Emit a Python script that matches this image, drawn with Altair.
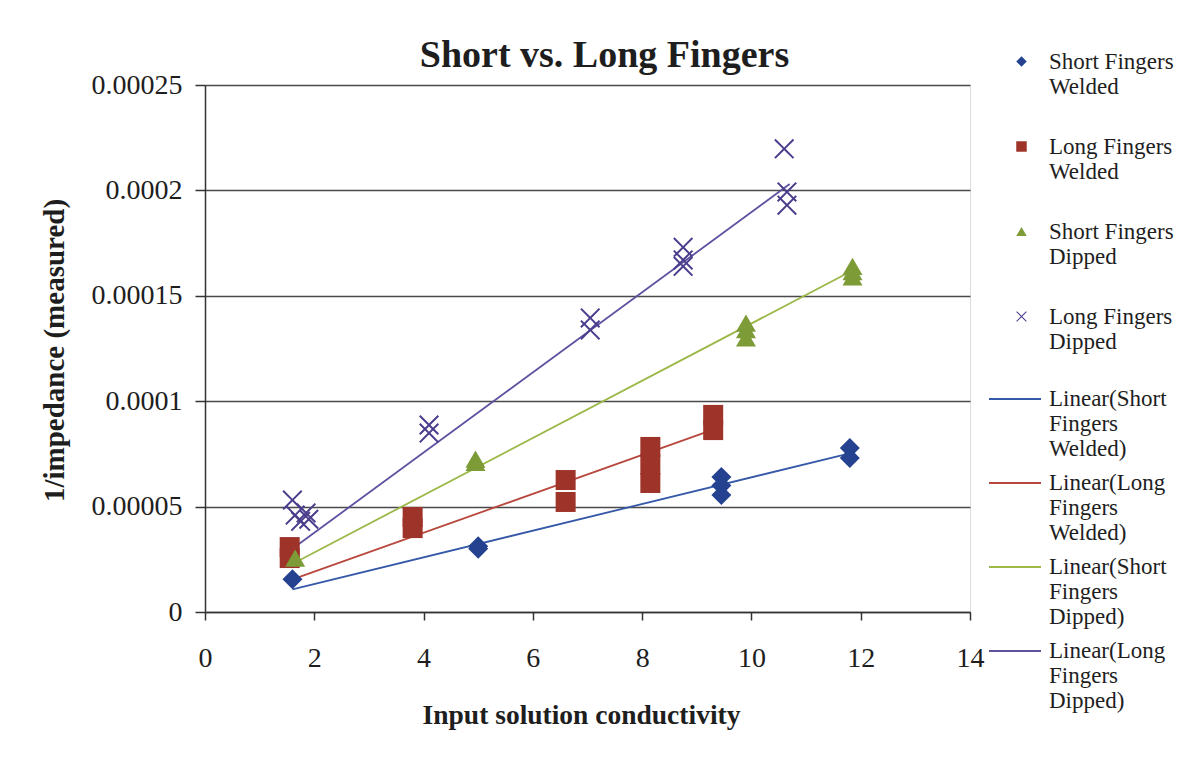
import altair as alt
import pandas as pd

# ---- data ----
SERIES = ["Short Fingers|Welded", "Long Fingers|Welded",
          "Short Fingers|Dipped", "Long Fingers|Dipped"]
FITS = ["Linear(Short|Fingers|Welded)", "Linear(Long|Fingers|Welded)",
        "Linear(Short|Fingers|Dipped)", "Linear(Long|Fingers|Dipped)"]

sfw_x = [1.6, 5.0, 5.0, 9.45, 9.45, 9.45, 11.8, 11.8]
sfw_y = [0.0000155, 0.0000300, 0.0000312, 0.0000640, 0.0000600, 0.0000555, 0.0000778, 0.0000731]

lfw_x = [1.55, 1.55, 3.8, 3.8, 6.6, 6.6, 8.15, 8.15, 8.15, 9.3, 9.3]
lfw_y = [0.0000256, 0.0000308, 0.0000398, 0.0000451, 0.0000522, 0.0000626,
         0.0000612, 0.0000700, 0.0000783, 0.0000863, 0.0000935]

sfd_x = [1.65, 4.95, 4.95, 9.9, 9.9, 9.9, 11.85, 11.85, 11.85]
sfd_y = [0.0000256, 0.0000710, 0.0000725, 0.0001300, 0.0001340, 0.0001370,
         0.0001590, 0.0001615, 0.0001640]

lfd_x = [1.6, 1.65, 1.75, 1.85, 1.9, 4.1, 4.1, 7.05, 7.05, 8.75, 8.75, 8.75,
         10.6, 10.65, 10.65]
lfd_y = [0.0000531, 0.0000460, 0.0000430, 0.0000470, 0.0000440, 0.0000887,
         0.0000849, 0.0001395, 0.0001338, 0.0001730, 0.0001670, 0.0001640,
         0.0002197, 0.0001993, 0.0001930]

# Excel linear trendlines: end points
fit_x0 = [1.6, 1.55, 1.65, 1.6]
fit_y0 = [0.0000107, 0.0000150, 0.0000235, 0.0000300]
fit_x1 = [11.8, 9.3, 11.85, 10.7]
fit_y1 = [0.0000753, 0.0000865, 0.0001620, 0.0002030]

PT_COLORS = ["#24428f", "#9e3429", "#7d9b36", "#4b3d8c"]
LINE_COLORS = ["#3658a8", "#b8483d", "#9bb848", "#5d51a0"]
X_PATH = ("M-1,-0.86L-0.86,-1L0,-0.14L0.86,-1L1,-0.86L0.14,0L1,0.86L0.86,1"
          "L0,0.14L-0.86,1L-1,0.86L-0.14,0Z")
SHAPES = ["diamond", "square", "triangle-up", X_PATH]

X_TICKS = [0, 2, 4, 6, 8, 10, 12, 14]
Y_TICKS = [0, 0.00005, 0.0001, 0.00015, 0.0002, 0.00025]

rows = []
for xs, ys, s in [(sfw_x, sfw_y, SERIES[0]), (lfw_x, lfw_y, SERIES[1]),
                  (sfd_x, sfd_y, SERIES[2]), (lfd_x, lfd_y, SERIES[3])]:
    for xv, yv in zip(xs, ys):
        rows.append({"x": xv, "y": yv, "series": s})
df = pd.DataFrame(rows)

fit_rows = []
for i, f in enumerate(FITS):
    fit_rows.append({"x": fit_x0[i], "y": fit_y0[i], "fit": f})
    fit_rows.append({"x": fit_x1[i], "y": fit_y1[i], "fit": f})
fit_df = pd.DataFrame(fit_rows)

FONT = "Liberation Serif"
TXT = "#1e1e1e"

x_enc = alt.X("x:Q", scale=alt.Scale(domain=[0, 14], nice=False),
              axis=alt.Axis(values=X_TICKS, format="d", labelFlush=False,
                            title="Input solution conductivity",
                            titleFont=FONT, titleFontSize=27.5, titleFontWeight="bold",
                            titleColor=TXT, titleX=376, titleY=111,
                            titleBaseline="alphabetic",
                            labelFont=FONT, labelFontSize=28, labelColor=TXT,
                            labelPadding=24, tickSize=8, grid=False,
                            domainColor="#333333", domainWidth=1.5,
                            tickColor="#333333", tickWidth=1.5))
y_enc = alt.Y("y:Q", scale=alt.Scale(domain=[0, 0.00025], nice=False),
              axis=alt.Axis(values=Y_TICKS, format=".5~f", labelFlush=False,
                            title="1/impedance (measured)",
                            titleFont=FONT, titleFontSize=29, titleFontWeight="bold",
                            titleColor=TXT, titleX=-151, titleY=265,
                            titleBaseline="middle", titleAngle=270,
                            labelFont=FONT, labelFontSize=28, labelColor=TXT,
                            labelPadding=13, tickSize=10, grid=True,
                            gridColor="#4a4a4a", gridWidth=1.6,
                            domainColor="#333333", domainWidth=1.5,
                            tickColor="#333333", tickWidth=1.5))

pt_legend = alt.Legend(title=None, orient="none", legendX=805, legendY=-35,
                       labelExpr="split(datum.label, '|')", labelFont=FONT,
                       labelFontSize=23, labelColor=TXT, labelLimit=300,
                       symbolSize=110, labelOffset=16, rowPadding=36, padding=0,
                       labelBaseline="middle")

points = alt.Chart(df).mark_point(filled=True, size=400, opacity=1).encode(
    x=x_enc, y=y_enc,
    color=alt.Color("series:N", scale=alt.Scale(domain=SERIES, range=PT_COLORS),
                    legend=pt_legend),
    shape=alt.Shape("series:N", scale=alt.Scale(domain=SERIES, range=SHAPES),
                    legend=pt_legend),
)

# a long, flat line symbol: drawn twice as wide as its layout box
line_legend = alt.Legend(title=None, orient="none", legendX=796, legendY=300,
                         labelExpr="split(datum.label, '|')", labelFont=FONT,
                         labelFontSize=23, labelColor=TXT, labelLimit=300,
                         symbolType="M-2,0H2", symbolSize=676, symbolStrokeWidth=2,
                         labelOffset=20, rowPadding=8, padding=0,
                         labelBaseline="middle")

lines = alt.Chart(fit_df).mark_line(strokeWidth=1.8).encode(
    x="x:Q", y="y:Q",
    color=alt.Color("fit:N", scale=alt.Scale(domain=FITS, range=LINE_COLORS),
                    legend=line_legend),
)

chart = alt.layer(lines, points).resolve_scale(
    color="independent", shape="independent"
).resolve_legend(color="independent", shape="independent").properties(
    width=765, height=527,
    title=alt.Title("Short vs. Long Fingers", font=FONT, fontSize=38,
                    fontWeight="bold", color=TXT, anchor="middle", frame="group",
                    dx=17, dy=29),
    autosize=alt.AutoSizeParams(type="none"),
    padding={"left": 197, "top": 77, "right": 210, "bottom": 135},
).configure_view(stroke=None).configure(background="white")

chart.save("out.html", embed_options={"renderer": "svg", "actions": False})
